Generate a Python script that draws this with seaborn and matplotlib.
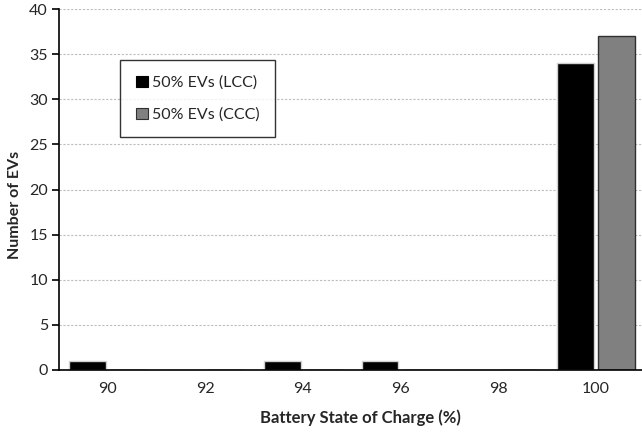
import matplotlib
matplotlib.use("Agg")
import matplotlib.pyplot as plt
import numpy as np
import pandas as pd
import seaborn as sns

# Battery state of charge bins and EV counts per charging strategy
soc_levels = ["90", "92", "94", "96", "98", "100"]
lcc_counts = [1, 0, 1, 1, 0, 34]
ccc_counts = [0, 0, 0, 0, 0, 37]
series_names = ["50% EVs (LCC)", "50% EVs (CCC)"]

df = pd.DataFrame({
    "soc": soc_levels * 2,
    "count": lcc_counts + ccc_counts,
    "series": [series_names[0]] * len(soc_levels) + [series_names[1]] * len(soc_levels),
})

sns.set_style("white")
plt.rcParams["font.family"] = ["Lato", "DejaVu Sans"]

fig = plt.figure(figsize=(6.42, 4.33), dpi=100)
# plot area runs slightly past the right edge of the canvas
ax = fig.add_axes([0.0919, 0.1455, 0.912, 0.8335])

palette = {series_names[0]: "#000000", series_names[1]: "#808080"}
sns.barplot(data=df, x="soc", y="count", hue="series", order=soc_levels,
            hue_order=series_names, palette=palette, width=0.84, gap=0.1,
            saturation=1, ax=ax, legend=True)

# edge styling: light edge on black bars, dark edge on gray bars
for cont, ec in zip(ax.containers, ["#d0d0d0", "#303030"]):
    for bar in cont:
        bar.set_edgecolor(ec)
        bar.set_linewidth(1.0)

ax.set_ylim(0, 40)
ax.set_xlim(-0.5, 5.5)
ax.set_yticks(np.arange(0, 41, 5))
ax.yaxis.grid(True, linestyle=(0, (2, 1.5)), color="#bdbdbd", linewidth=0.8)
ax.set_axisbelow(True)

for s in ["top", "right"]:
    ax.spines[s].set_visible(False)
for s in ["left", "bottom"]:
    ax.spines[s].set_color("black")
    ax.spines[s].set_linewidth(1.2)

# ticks at category boundaries
ax.set_xticks(np.arange(-0.5, 5.6, 1), minor=True)
ax.tick_params(axis="x", which="major", length=0, labelsize=11.5, pad=9)
ax.tick_params(axis="x", which="minor", length=5, width=1.2, color="black", direction="out")
ax.tick_params(axis="y", length=5, width=1.2, color="black", direction="out",
               labelsize=11.5, left=True, pad=3)

ax.set_xlabel("Battery State of Charge (%)", fontsize=12, fontweight="bold")
ax.set_ylabel("Number of EVs", fontsize=11.5, fontweight="bold")
ax.xaxis.set_label_coords(0.514, -0.11)
ax.yaxis.set_label_coords(-0.064, 0.456)

leg = ax.legend(loc="upper left", bbox_to_anchor=(0.105, 0.858), frameon=True,
                fancybox=False, shadow=False, fontsize=11.5, handlelength=0.75,
                handleheight=0.75, handletextpad=0.3, labelspacing=1.1,
                borderpad=0.95, borderaxespad=0)
leg.get_frame().set_edgecolor("black")
leg.get_frame().set_linewidth(1.0)
for h, ec in zip(leg.legend_handles, ["#000000", "#303030"]):
    h.set_edgecolor(ec)
    h.set_linewidth(0.8)

fig.savefig("out.png", dpi=100)
